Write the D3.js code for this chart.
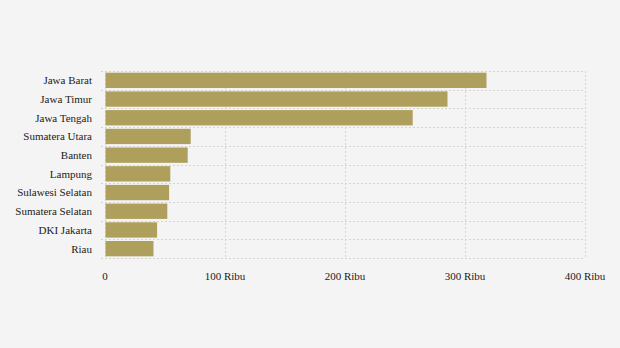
<!DOCTYPE html>
<html><head><meta charset="utf-8">
<script src="https://cdn.jsdelivr.net/npm/d3@7"></script>
<style>html,body{margin:0;padding:0;background:#f4f4f4;}svg{display:block;}</style>
</head><body>
<script>
const categories = ["Jawa Barat","Jawa Timur","Jawa Tengah","Sumatera Utara","Banten","Lampung","Sulawesi Selatan","Sumatera Selatan","DKI Jakarta","Riau"];
const values = [317.5, 285, 256, 71, 68.5, 54, 53, 51.5, 43, 40];
const xTicks = [0, 100, 200, 300, 400];
const xTickLabels = ["0", "100 Ribu", "200 Ribu", "300 Ribu", "400 Ribu"];

const W = 620, H = 348;
const m = {left:105, right:35, top:71, bottom:90};
const svg = d3.select("body").append("svg").attr("width", W).attr("height", H);
svg.append("rect").attr("width", W).attr("height", H).attr("fill", "#f4f4f4");

const x = d3.scaleLinear().domain([0, 400]).range([m.left, W - m.right]);
const y = d3.scaleBand().domain(categories).range([m.top, H - m.bottom]).paddingInner(0.18).paddingOuter(0.09);
const step = y.step();
const bandEdges = d3.range(categories.length + 1).map(i => m.top + i * (H - m.bottom - m.top) / categories.length);

const grid = svg.append("g").attr("stroke", "#d4d4d4").attr("stroke-dasharray", "2,2").attr("stroke-width", 1);
grid.selectAll("line.h").data(bandEdges).join("line")
  .attr("x1", m.left - 4).attr("x2", x(400)).attr("y1", d => Math.round(d) + 0.5).attr("y2", d => Math.round(d) + 0.5);
grid.selectAll("line.v").data(xTicks).join("line")
  .attr("x1", d => Math.round(x(d)) + 0.5).attr("x2", d => Math.round(x(d)) + 0.5)
  .attr("y1", m.top).attr("y2", H - m.bottom);

svg.append("g").selectAll("rect").data(categories).join("rect")
  .attr("x", x(0) + 0.5)
  .attr("y", d => y(d))
  .attr("width", (d, i) => x(values[i]) - x(0))
  .attr("height", y.bandwidth())
  .attr("fill", "#ae9f5c");

svg.append("g").selectAll("text").data(categories).join("text")
  .attr("x", 92).attr("y", d => y(d) + y.bandwidth() / 2)
  .attr("dy", "0.35em").attr("text-anchor", "end")
  .attr("font-family", "Liberation Serif, Times New Roman, serif").attr("font-size", 11).attr("fill", "#222")
  .text(d => d);

svg.append("g").selectAll("text").data(xTicks).join("text")
  .attr("x", d => x(d)).attr("y", 280).attr("text-anchor", "middle")
  .attr("font-family", "Liberation Serif, Times New Roman, serif").attr("font-size", 11).attr("fill", "#222")
  .text((d, i) => xTickLabels[i]);
</script>
</body></html>
